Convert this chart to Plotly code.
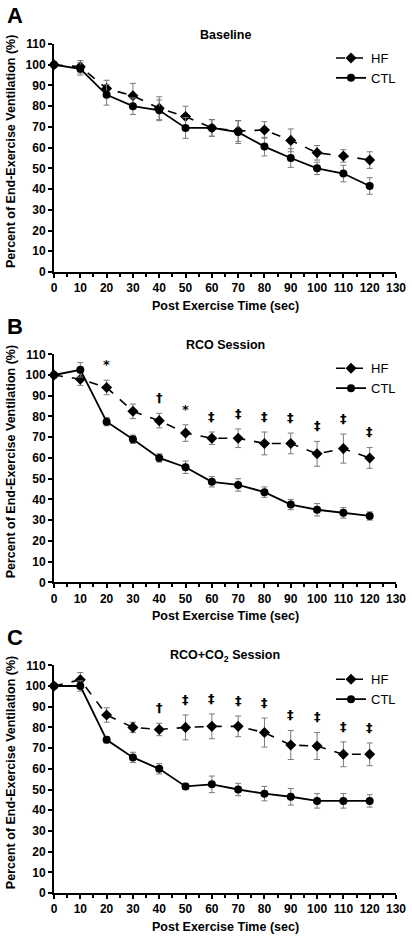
import plotly.graph_objects as go

time_s = [0, 10, 20, 30, 40, 50, 60, 70, 80, 90, 100, 110, 120]

# Panel A - Baseline
a_hf = [100, 99, 88.5, 85, 79, 75, 69.5, 68, 68.5, 63.5, 57.5, 56, 54]
a_hf_err = [0, 3, 4, 6, 5.5, 5, 4, 5, 4, 5.5, 3.5, 3, 4]
a_ctl = [100, 98, 85.5, 80, 78, 69.5, 69.5, 67.5, 60.5, 55, 50, 47.5, 41.5]
a_ctl_err = [0, 3, 5, 4, 5, 5, 4, 5.5, 4.5, 4.5, 3, 4, 4]
a_sig = ["", "", "", "", "", "", "", "", "", "", "", "", ""]

# Panel B - RCO Session
b_hf = [100, 98, 94, 82.5, 78, 72, 69.5, 69.5, 67, 67, 62, 64.5, 60]
b_hf_err = [0, 3, 3.5, 3.5, 3.5, 4, 3, 4.5, 5.5, 5, 6, 7, 5]
b_ctl = [100, 102.5, 77.5, 69, 60, 55.5, 48.5, 47, 43.5, 37.5, 35, 33.5, 32]
b_ctl_err = [0, 3.5, 2, 2, 2, 3, 2.5, 3, 2.5, 2.5, 3, 2.5, 2]
b_sig = ["", "", "*", "", "†", "*", "‡", "‡", "‡", "‡", "‡", "‡", "‡"]

# Panel C - RCO+CO2 Session
c_hf = [100, 103, 86, 80, 79, 80, 80.5, 80.5, 77.5, 71.5, 71, 67, 67]
c_hf_err = [0, 3.5, 3.5, 2.5, 3, 6, 6, 5, 7, 7, 6.5, 6, 5.5]
c_ctl = [100, 100, 74, 65.5, 60, 51.5, 52.5, 50, 48, 46.5, 44.5, 44.5, 44.5]
c_ctl_err = [0, 2.5, 1.5, 2.5, 2.5, 1.5, 4, 3, 3.5, 4, 3.5, 3.5, 3]
c_sig = ["", "", "", "", "†", "‡", "‡", "‡", "‡", "‡", "‡", "‡", "‡"]

panel_letters = ["A", "B", "C"]
panel_titles = ["Baseline", "RCO Session", "RCO+CO<sub>2</sub> Session"]
x_title = "Post Exercise Time (sec)"
y_title = "Percent of End-Exercise Ventilation (%)"
x_ticks = list(range(0, 131, 10))
y_ticks = list(range(0, 111, 10))

panels = [
    (a_hf, a_hf_err, a_ctl, a_ctl_err, a_sig),
    (b_hf, b_hf_err, b_ctl, b_ctl_err, b_sig),
    (c_hf, c_hf_err, c_ctl, c_ctl_err, c_sig),
]

W, H = 412, 941
PL, PR, PT, PB = 54, 396, 44, 893  # plot area edges in pixels
ML, MR, MT, MB = PL, W - PR, PT, H - PB
plot_h = H - MT - MB
plot_w = W - ML - MR

# pixel tops/bottoms of each panel's plotting area
px_top = [44, 354.3, 665.3]
px_bot = [272, 582.3, 893]


def fy(py):
    return (PB - py) / plot_h


def fx(px):
    return (px - PL) / plot_w


def clamp(v):
    return min(1.0, max(0.0, v))


FONT = "Liberation Sans, Arial, sans-serif"
SYMFONT = "DejaVu Sans"
fig = go.Figure()
layout_extra = {}
annotations = []

for i, (hf, hf_e, ctl, ctl_e, sig) in enumerate(panels):
    n = "" if i == 0 else str(i + 1)
    xa, ya = "x" + n, "y" + n
    leg = "legend" + n
    fig.add_trace(go.Scatter(
        x=time_s, y=hf, name="HF", xaxis=xa, yaxis=ya, legend=leg,
        mode="lines+markers", cliponaxis=False,
        line=dict(color="black", width=1.6, dash="dash"),
        marker=dict(symbol="diamond", size=8.5, color="black"),
        error_y=dict(type="data", array=hf_e, color="#7a7a7a", thickness=1, width=3),
    ))
    fig.add_trace(go.Scatter(
        x=time_s, y=ctl, name="CTL", xaxis=xa, yaxis=ya, legend=leg,
        mode="lines+markers", cliponaxis=False,
        line=dict(color="black", width=1.8),
        marker=dict(symbol="circle", size=8, color="black"),
        error_y=dict(type="data", array=ctl_e, color="#7a7a7a", thickness=1, width=3),
    ))
    dom = [clamp(fy(px_bot[i])), clamp(fy(px_top[i]))]
    axis_common = dict(
        showgrid=False, zeroline=False, showline=True, linecolor="black", linewidth=2,
        ticks="outside", tickcolor="black", tickwidth=2, ticklen=4, automargin=False,
        tickfont=dict(family=FONT, size=12, color="black", weight="bold"),
    )
    layout_extra["xaxis" + n] = dict(
        axis_common, range=[0, 130], tickvals=x_ticks, anchor=ya,
        domain=[0, 1],
        minor=dict(ticks="outside", dtick=5, ticklen=3, tickwidth=2, tickcolor="black"),
    )
    layout_extra["yaxis" + n] = dict(
        axis_common, range=[0, 110], tickvals=y_ticks, anchor=xa, domain=dom,
    )
    layout_extra[leg] = dict(
        x=0.81, xanchor="left", y=fy(px_top[i] - 1), yanchor="top",
        bgcolor="rgba(0,0,0,0)", itemwidth=30, tracegroupgap=0,
        font=dict(family=FONT, size=13, color="black"),
    )
    # x axis title
    annotations.append(dict(
        text=x_title, xref="paper", yref="paper", x=0.5,
        y=fy(px_bot[i] + 34), xanchor="center", yanchor="middle", showarrow=False,
        font=dict(family=FONT, size=12.5, color="black", weight="bold"),
    ))
    # y axis title
    annotations.append(dict(
        text=y_title, xref="paper", yref="paper", x=fx(11),
        y=fy((px_top[i] + px_bot[i]) / 2 - 6), xanchor="center", yanchor="middle",
        textangle=-90, showarrow=False,
        font=dict(family=FONT, size=12.5, color="black", weight="bold"),
    ))
    # panel title
    annotations.append(dict(
        text=panel_titles[i], xref="paper", yref="paper", x=0.5,
        y=fy(px_top[i] - 9), xanchor="center", yanchor="middle", showarrow=False,
        font=dict(family=FONT, size=12.5, color="black", weight="bold"),
    ))
    # panel letter
    annotations.append(dict(
        text=panel_letters[i], xref="paper", yref="paper",
        x=fx(5), y=fy(px_top[i] - 28),
        xanchor="left", yanchor="middle", showarrow=False,
        font=dict(family=FONT, size=22, color="black", weight="bold"),
    ))
    # significance markers
    for t, v, e, s in zip(time_s, hf, hf_e, sig):
        if s:
            annotations.append(dict(
                text=s, xref=xa, yref=ya, x=t, y=v + e + 3, xanchor="center",
                yanchor="bottom", showarrow=False,
                font=dict(family=SYMFONT, size=13, color="black", weight="bold"),
            ))

fig.update_layout(
    width=W, height=H, margin=dict(l=ML, r=MR, t=MT, b=MB, autoexpand=False),
    paper_bgcolor="white", plot_bgcolor="white",
    showlegend=True, annotations=annotations,
    font=dict(family=FONT, color="black"),
    **layout_extra,
)

fig.write_html(
    "out.html",
    config={"displayModeBar": False},
    post_script="document.body.style.margin='0';document.body.style.overflow='hidden';",
)
